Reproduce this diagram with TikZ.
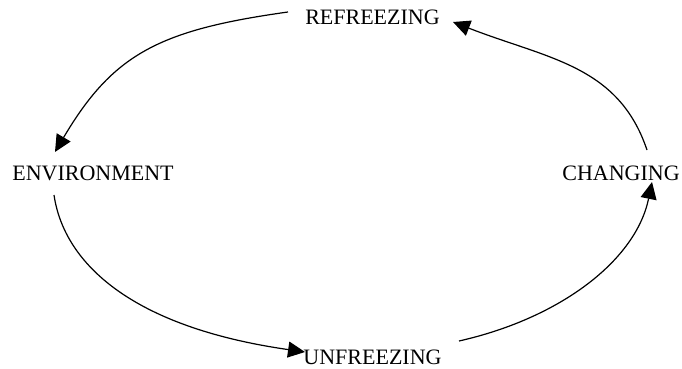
\documentclass[tikz,border=0pt]{standalone}
\usepackage{fontspec}
\setmainfont{Liberation Serif}
\usetikzlibrary{arrows.meta}
\begin{document}
\begin{tikzpicture}[x=1pt,y=1pt,
  stage/.style={inner sep=0pt,anchor=base,font=\fontsize{22pt}{26pt}\selectfont},
  flow/.style={line width=1.2pt,-{Triangle[length=17pt,width=16pt]}}]
\useasboundingbox (0,0) rectangle (682,-369);
% cycle stages
\node[stage] (ref) at (372.5,-25)  {REFREEZING};
\node[stage] (env) at (93,-180)    {ENVIRONMENT};
\node[stage] (chg) at (621,-180)   {CHANGING};
\node[stage] (unf) at (372.5,-364) {UNFREEZING};
% arcs of the cycle
\draw[flow] ([shift={(-84.5,13)}]ref.base) .. controls +(-129,-18) and +(58,98) .. ([shift={(-38,28)}]env.base);
\draw[flow] ([shift={(-39,-15)}]env.base) .. controls +(10,-68) and +(-174,25) .. ([shift={(-67.5,12)}]unf.base);
\draw[flow] ([shift={(86.5,23)}]unf.base) .. controls +(102,23) and +(-16,-78) .. ([shift={(31,-2)}]chg.base);
\draw[flow] ([shift={(26,30)}]chg.base) .. controls +(-28.6,84.8) and +(95,-37) .. ([shift={(80.5,3)}]ref.base);
\end{tikzpicture}
\end{document}
